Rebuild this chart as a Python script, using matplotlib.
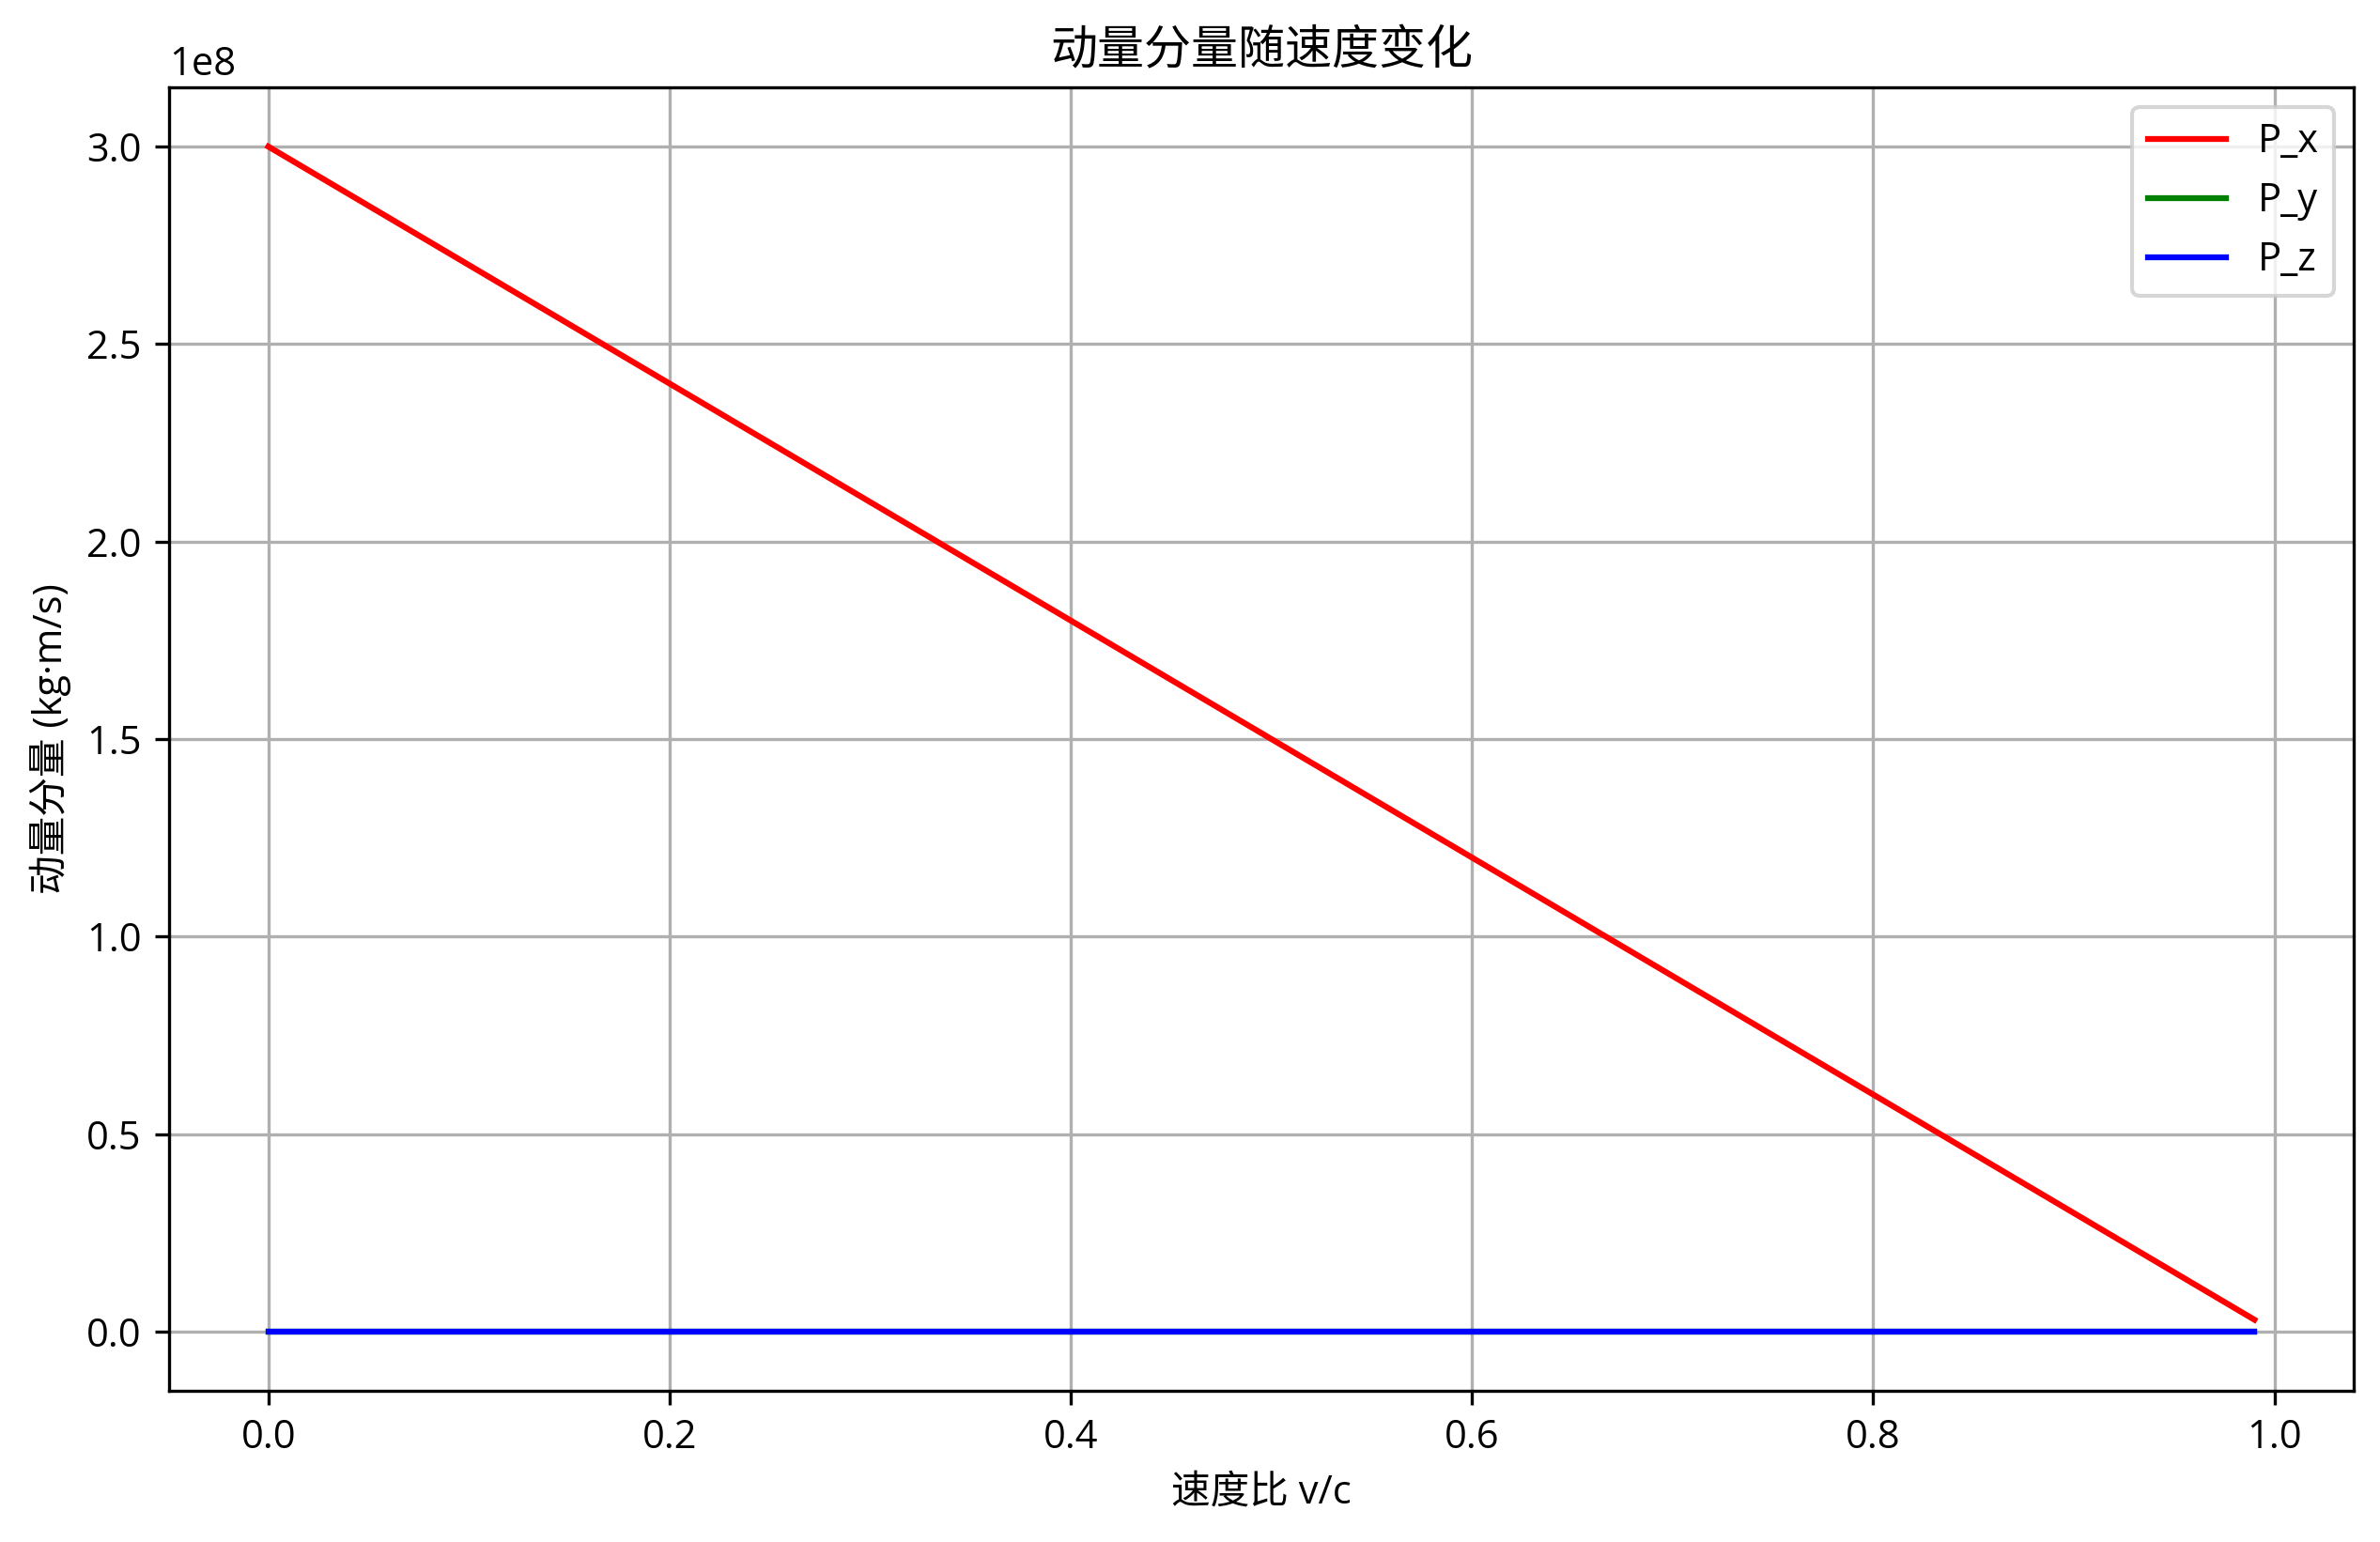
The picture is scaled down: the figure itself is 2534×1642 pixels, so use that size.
import matplotlib
matplotlib.use('Agg')
import matplotlib.pyplot as plt

# Latin glyphs from Open Sans, Chinese falls back to Noto Sans CJK SC
plt.rcParams['font.family'] = ['Open Sans', 'Noto Sans CJK SC', 'DejaVu Sans']
plt.rcParams['axes.unicode_minus'] = False

# speed ratio v/c and momentum components (kg·m/s)
v_ratio = [0.0, 0.1, 0.2, 0.3, 0.4, 0.5, 0.6, 0.7, 0.8, 0.9, 0.99]
p_x = [3.0e8, 2.7e8, 2.4e8, 2.1e8, 1.8e8, 1.5e8, 1.2e8, 0.9e8, 0.6e8, 0.3e8, 0.03e8]
p_y = [0.0] * len(v_ratio)
p_z = [0.0] * len(v_ratio)

fig = plt.figure(figsize=(2534 / 300, 1642 / 300), dpi=300)
ax = fig.add_axes([180 / 2534, 1 - 1481 / 1642, 2326 / 2534, 1388 / 1642])

ax.plot(v_ratio, p_x, color='red', label='P_x')
ax.plot(v_ratio, p_y, color='green', label='P_y')
ax.plot(v_ratio, p_z, color='blue', label='P_z')

ax.set_title('动量分量随速度变化')
ax.set_xlabel('速度比 v/c')
ax.set_ylabel('动量分量 (kg·m/s)')
ax.legend(loc='upper right')
ax.grid(True)

fig.savefig('out.png', dpi=300)
